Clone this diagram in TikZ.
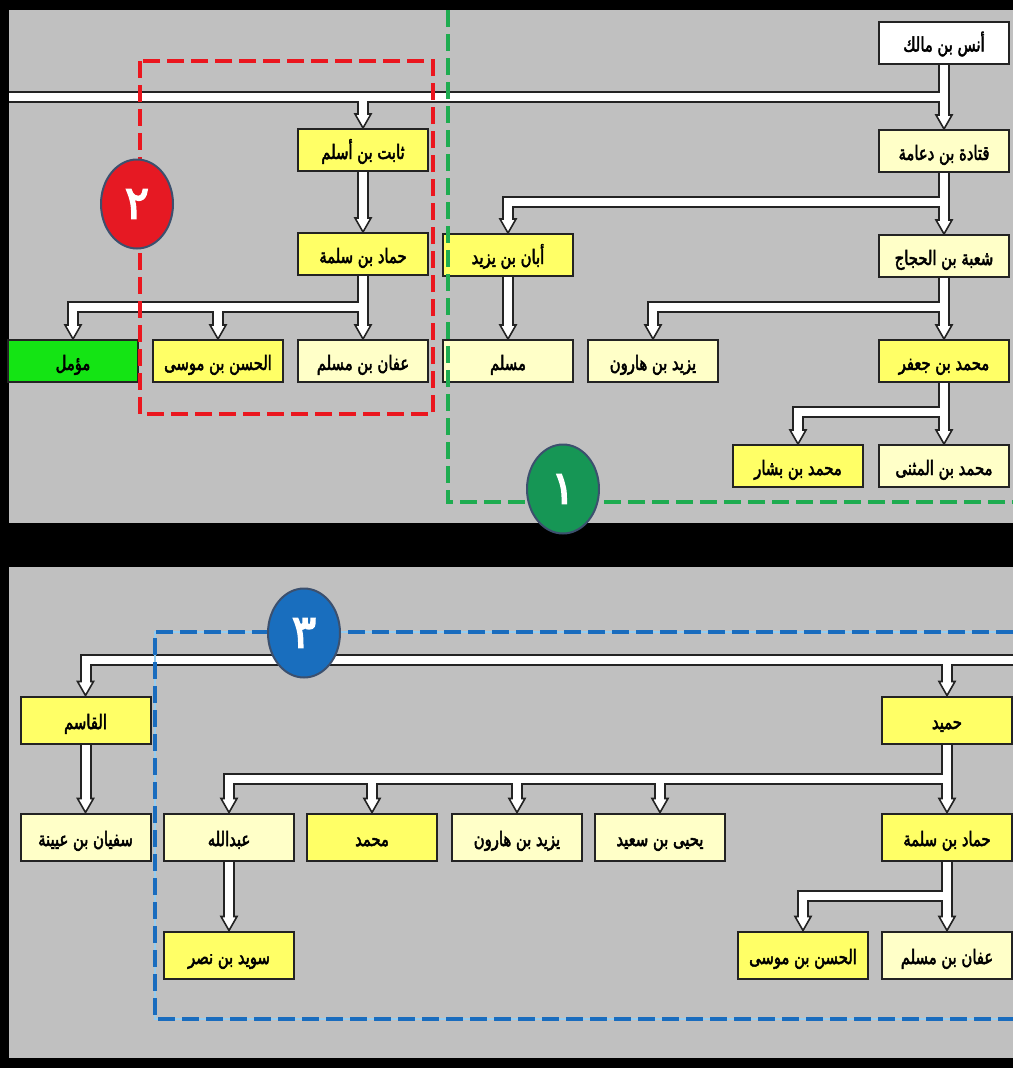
\documentclass[tikz,border=0pt]{standalone}
\usepackage{fontspec}
\usetikzlibrary{calc,shapes.geometric}
\TeXXeTstate=1
\newfontfamily\arabicfont[Script=Arabic,FakeBold=2.4,FakeStretch=0.74]{DejaVu Sans}
\newfontfamily\digitfont[Script=Arabic,FakeBold=3]{DejaVu Sans}
\newcommand\artext[1]{\beginR#1\endR}
\pgfdeclarelayer{bg}
\pgfsetlayers{bg,main}
\definecolor{panelgrey}{RGB}{192,192,192}
\definecolor{paleyel}{RGB}{255,255,200}
\definecolor{brightyel}{RGB}{255,255,102}
\definecolor{nodegreen}{RGB}{20,228,20}
\definecolor{edgedark}{RGB}{35,35,35}
\definecolor{dashred}{RGB}{235,22,30}
\definecolor{dashgreen}{RGB}{30,172,80}
\definecolor{dashblue}{RGB}{25,108,190}
\definecolor{gapblue}{RGB}{150,205,240}
\definecolor{circred}{RGB}{230,25,35}
\definecolor{circgreen}{RGB}{22,150,85}
\definecolor{circblue}{RGB}{25,110,190}
\definecolor{circedge}{RGB}{60,80,110}
\tikzset{
  box/.style={draw=edgedark, line width=2pt, minimum width=130pt, minimum height=42pt,
    inner sep=0pt, text height=19pt, text depth=1pt,
    font=\arabicfont\fontsize{20}{20}\selectfont},
  tallbox/.style={box, minimum height=47pt},
  pale/.style={fill=paleyel},
  bright/.style={fill=brightyel},
  whitebox/.style={fill=white},
  greenbox/.style={fill=nodegreen},
  pipeout/.style={draw=edgedark, line width=12pt},
  pipein/.style={draw=white, line width=8pt},
  tri/.style={draw=edgedark, fill=white, line width=1.6pt, line join=miter},
  circ/.style={ellipse, minimum width=72pt, minimum height=89pt, draw=circedge, line width=2pt,
    inner sep=0pt, text=white, font=\digitfont\fontsize{46}{46}\selectfont},
  reddash/.style={draw=dashred, line width=4.5pt, dash pattern=on 17pt off 7pt},
  greendash/.style={draw=dashgreen, line width=4.5pt, dash pattern=on 17pt off 7pt},
  bluegap/.style={draw=gapblue, line width=2.5pt},
  bluedash/.style={draw=dashblue, line width=4.5pt, dash pattern=on 17pt off 7pt},
}
\newcommand\pipesall[2]{%
  % top panel
  \draw[#1] (anas.south) -- ([yshift=#2]qatada.north);
  \draw[#1] (anas.south |- hA) -- (leftend);
  \draw[#1] (thabit.north |- hA) -- ([yshift=#2]thabit.north);
  \draw[#1] (thabit.south) -- ([yshift=#2]hammadA.north);
  \draw[#1] (qatada.south) -- ([yshift=#2]shuba.north);
  \draw[#1] (qatada.south |- hQ) -| ([yshift=#2]aban.north);
  \draw[#1] (aban.south) -- ([yshift=#2]muslim.north);
  \draw[#1] (shuba.south) -- ([yshift=#2]mjafar.north);
  \draw[#1] (shuba.south |- hS) -| ([yshift=#2]yazidA.north);
  \draw[#1] (mjafar.south) -- ([yshift=#2]mmuthanna.north);
  \draw[#1] (mjafar.south |- hJ) -| ([yshift=#2]mbashar.north);
  \draw[#1] (hammadA.south) -- ([yshift=#2]affanA.north);
  \draw[#1] (hammadA.south |- hH) -| ([yshift=#2]muammal.north);
  \draw[#1] (hasanA.north |- hH) -- ([yshift=#2]hasanA.north);
  % bottom panel
  \draw[#1] (rightend) -| ([yshift=#2]qasim.north);
  \draw[#1] (humayd.north |- hT) -- ([yshift=#2]humayd.north);
  \draw[#1] (qasim.south) -- ([yshift=#2]sufyan.north);
  \draw[#1] (humayd.south) -- ([yshift=#2]hammadB.north);
  \draw[#1] (humayd.south |- hM) -| ([yshift=#2]abdallah.north);
  \draw[#1] (muhammad.north |- hM) -- ([yshift=#2]muhammad.north);
  \draw[#1] (yazidB.north |- hM) -- ([yshift=#2]yazidB.north);
  \draw[#1] (yahya.north |- hM) -- ([yshift=#2]yahya.north);
  \draw[#1] (abdallah.south) -- ([yshift=#2]suwayd.north);
  \draw[#1] (hammadB.south) -- ([yshift=#2]affanB.north);
  \draw[#1] (hammadB.south |- hD) -| ([yshift=#2]hasanB.north);
}
\begin{document}
\begin{tikzpicture}[x=1pt,y=-1pt]
\useasboundingbox (0,0) rectangle (1013,1068);
% ---- nodes: top panel
\node[box,whitebox] (anas) at (944,42.5) {\artext{أنس بن مالك}};
\node[box,pale] (qatada) at (944,151) {\artext{قتادة بن دعامة}};
\node[box,pale] (shuba) at (944,256) {\artext{شعبة بن الحجاج}};
\node[box,bright] (mjafar) at (944,361) {\artext{محمد بن جعفر}};
\node[box,pale] (mmuthanna) at (944,466) {\artext{محمد بن المثنى}};
\node[box,bright] (mbashar) at (798,466) {\artext{محمد بن بشار}};
\node[box,pale] (yazidA) at (653,361) {\artext{يزيد بن هارون}};
\node[box,pale] (muslim) at (508,361) {\artext{مسلم}};
\node[box,bright] (aban) at (508,255) {\artext{أبان بن يزيد}};
\node[box,bright] (thabit) at (363,150) {\artext{ثابت بن أسلم}};
\node[box,bright] (hammadA) at (363,254) {\artext{حماد بن سلمة}};
\node[box,pale] (affanA) at (363,361) {\artext{عفان بن مسلم}};
\node[box,bright] (hasanA) at (218,361) {\artext{الحسن بن موسى}};
\node[box,greenbox] (muammal) at (73,361) {\artext{مؤمل}};
% ---- nodes: bottom panel
\node[tallbox,bright] (qasim) at (85.5,720) {\artext{القاسم}};
\node[tallbox,pale] (sufyan) at (85.5,837) {\artext{سفيان بن عيينة}};
\node[tallbox,pale] (abdallah) at (229,837) {\artext{عبدالله}};
\node[tallbox,bright] (suwayd) at (229,955) {\artext{سويد بن نصر}};
\node[tallbox,bright] (muhammad) at (372,837) {\artext{محمد}};
\node[tallbox,pale] (yazidB) at (517,837) {\artext{يزيد بن هارون}};
\node[tallbox,pale] (yahya) at (660,837) {\artext{يحيى بن سعيد}};
\node[tallbox,bright] (humayd) at (947,720) {\artext{حميد}};
\node[tallbox,bright] (hammadB) at (947,837) {\artext{حماد بن سلمة}};
\node[tallbox,bright] (hasanB) at (803,955) {\artext{الحسن بن موسى}};
\node[tallbox,pale] (affanB) at (947,955) {\artext{عفان بن مسلم}};
% ---- connector levels
\coordinate (hA) at (0,97);
\coordinate (hQ) at (0,202);
\coordinate (hH) at (0,307);
\coordinate (hS) at (0,307);
\coordinate (hJ) at (0,412);
\coordinate (hT) at (0,660);
\coordinate (hM) at (0,779);
\coordinate (hD) at (0,896);
\coordinate (leftend) at (9,97);
\coordinate (rightend) at (1013,660);
% ---- background layer: frame, panels, connectors
\begin{pgfonlayer}{bg}
\fill[black] (0,0) rectangle (1013,1068);
\fill[panelgrey] (9,10) rectangle (1013,523);
\fill[panelgrey] (9,567) rectangle (1013,1058);
\pipesall{pipeout}{14pt}
\foreach \c in {qatada,thabit,hammadA,shuba,aban,muslim,mjafar,yazidA,mmuthanna,mbashar,affanA,muammal,hasanA,
                qasim,humayd,sufyan,hammadB,abdallah,muhammad,yazidB,yahya,suwayd,affanB,hasanB}
  \draw[tri] (\c.north) -- ([xshift=-8pt,yshift=14pt]\c.north) -- ([xshift=8pt,yshift=14pt]\c.north) -- cycle;
\pipesall{pipein}{11pt}
\end{pgfonlayer}
% ---- dashed groups
\draw[reddash] (140,61) rectangle (433,414);
\draw[greendash] (448,10) -- (448,502) -- (1013,502);
\draw[bluegap] (1013,632) -- (155,632) -- (155,1019) -- (1013,1019);
\draw[bluedash] (1013,632) -- (155,632) -- (155,1019) -- (1013,1019);
% ---- numbered circles
\node[circ,fill=circgreen] (one) at (563,489) {١};
\node[circ,fill=circred] (two) at (137,204) {٢};
\node[circ,fill=circblue] (three) at (304,633) {٣};
\end{tikzpicture}
\end{document}
